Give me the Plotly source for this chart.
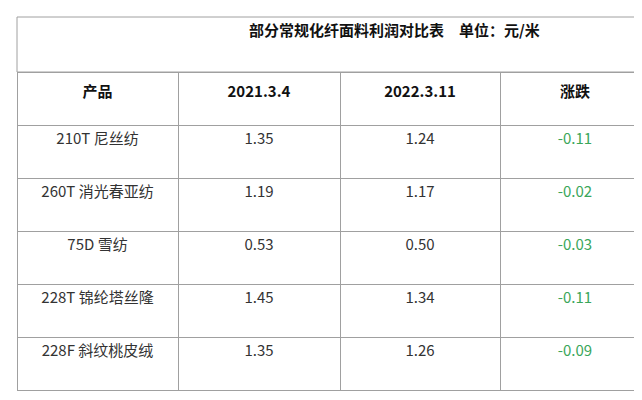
import plotly.graph_objects as go

title = "部分常规化纤面料利润对比表　单位：元/米"
headers = ["产品", "2021.3.4", "2022.3.11", "涨跌"]
products = ["210T 尼丝纺", "260T 消光春亚纺", "75D 雪纺", "228T 锦纶塔丝隆", "228F 斜纹桃皮绒"]
v2021 = ["1.35", "1.19", "0.53", "1.45", "1.35"]
v2022 = ["1.24", "1.17", "0.50", "1.34", "1.26"]
change = ["-0.11", "-0.02", "-0.03", "-0.11", "-0.09"]

W, H = 642, 400
ml, mt = 9, 9
ph = H - mt - 0
title_h = 55
lc = "#a0a0a0"
font = "Noto Sans CJK SC, sans-serif"

fig = go.Figure(go.Table(
    domain=dict(x=[0, 1], y=[0, (ph - title_h) / ph]),
    columnwidth=[161, 162, 160, 150],
    header=dict(values=[f"<b>{h}</b>" for h in headers], height=53,
                fill_color="white", line_color=lc, align="center",
                font=dict(family=font, size=15, color="#111")),
    cells=dict(values=[products, v2021, v2022, change], height=53,
               fill_color="white", line_color=lc, align="center",
               font=dict(family=font, size=15,
                         color=[["#333"] * 5, ["#333"] * 5, ["#333"] * 5, ["#3aa65a"] * 5])),
))
fig.add_shape(type="rect", xref="paper", yref="paper", x0=0, x1=1,
              y0=(ph - title_h) / ph, y1=1, line=dict(color=lc, width=1))
fig.add_annotation(xref="paper", yref="paper", x=(390 - 17) / (W - 17), y=1 - (title_h / 2) / ph,
                   yanchor="middle", yshift=15,
                   text=f"<b>{title}</b>", showarrow=False,
                   font=dict(family=font, size=15, color="#111"))
fig.update_layout(width=W, height=H, margin=dict(l=ml, r=0, t=mt, b=0),
                  paper_bgcolor="white", plot_bgcolor="white")
fig.write_html("out.html")
